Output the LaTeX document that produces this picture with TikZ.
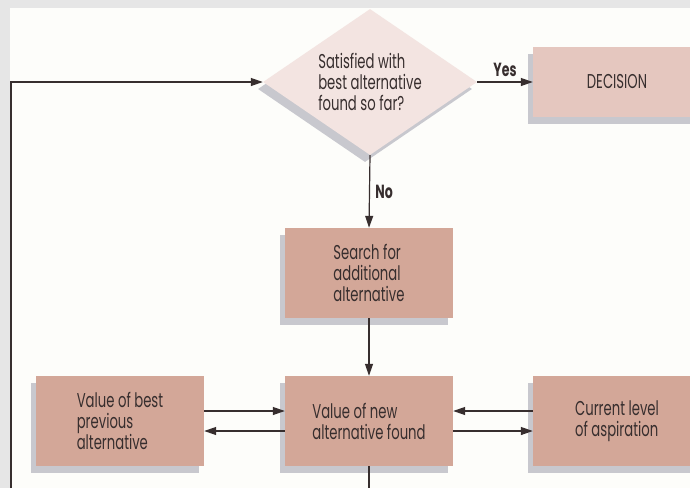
\documentclass[tikz,border=0pt]{standalone}
\usepackage{fontspec}
\setmainfont[FakeStretch=0.66]{Poppins}
\usetikzlibrary{shapes.geometric,shadows,arrows.meta}
\definecolor{boxfill}{RGB}{211,167,152}
\definecolor{decfill}{RGB}{229,199,191}
\definecolor{testfill}{RGB}{243,228,225}
\definecolor{shade}{RGB}{200,200,206}
\definecolor{frame}{RGB}{230,230,230}
\definecolor{panel}{RGB}{253,253,250}
\definecolor{ink}{RGB}{55,46,46}
\begin{document}
\begin{tikzpicture}
        [x=1pt,y=-1pt,
         every node/.style={text=ink,font=\fontsize{20}{21}\selectfont},
         block/.style={rectangle,fill=boxfill,minimum width=168pt,minimum height=90pt,
           align=left,inner sep=0pt,
           drop shadow={shadow xshift=-5pt,shadow yshift=-7pt,fill=shade,opacity=1}},
         link/.style={draw=ink,line width=1.2pt},
         flow/.style={link,-{Triangle[length=12pt,width=8pt]}}]
        \useasboundingbox (0,0) rectangle (690,488);
        \fill[frame] (0,0) rectangle (690,488);
        \fill[panel] (10,8) rectangle (690,488);

        \node[diamond,fill=testfill,minimum width=214pt,minimum height=146pt,inner sep=-20pt,align=left,
          drop shadow={shadow xshift=-5pt,shadow yshift=-7pt,fill=shade,opacity=1}]
          (test) at (370,82) {Satisfied with\\best alternative\\found so far?};
        \node[block,fill=decfill,minimum height=70pt] (decision) at (617,82) {DECISION};
        \node[block] (search) at (369,273) {Search for\\additional\\alternative};
        \node[block] (newval) at (369,421) {Value of new\\alternative found};
        \node[block] (bestval) at (120,421) {Value of best\\previous\\alternative};
        \node[block] (aspire) at (617,421) {Current level\\of aspiration};

        \coordinate (corner) at (11,82);
        \coordinate (loopend) at (11,488);
        \coordinate (outend) at (369,488);

        \draw[flow] (loopend) -- (corner) -- (test.west);
        \draw[flow] (test.east) -- node[above=1pt,font=\fontsize{19}{20}\selectfont\bfseries] {Yes} (decision.west);
        \draw[flow] (test.south) -- node[right=2pt,font=\fontsize{19}{20}\selectfont\bfseries] {No} (search.north);
        \draw[flow] (search) -- (newval);
        \draw[link] (newval.south) -- (outend);

        \draw[flow] ([yshift=10pt]bestval.east) -- ([yshift=10pt]newval.west);
        \draw[flow] ([yshift=-10pt]newval.west) -- ([yshift=-10pt]bestval.east);
        \draw[flow] ([yshift=10pt]aspire.west) -- ([yshift=10pt]newval.east);
        \draw[flow] ([yshift=-10pt]newval.east) -- ([yshift=-10pt]aspire.west);
      \end{tikzpicture}
\end{document}
